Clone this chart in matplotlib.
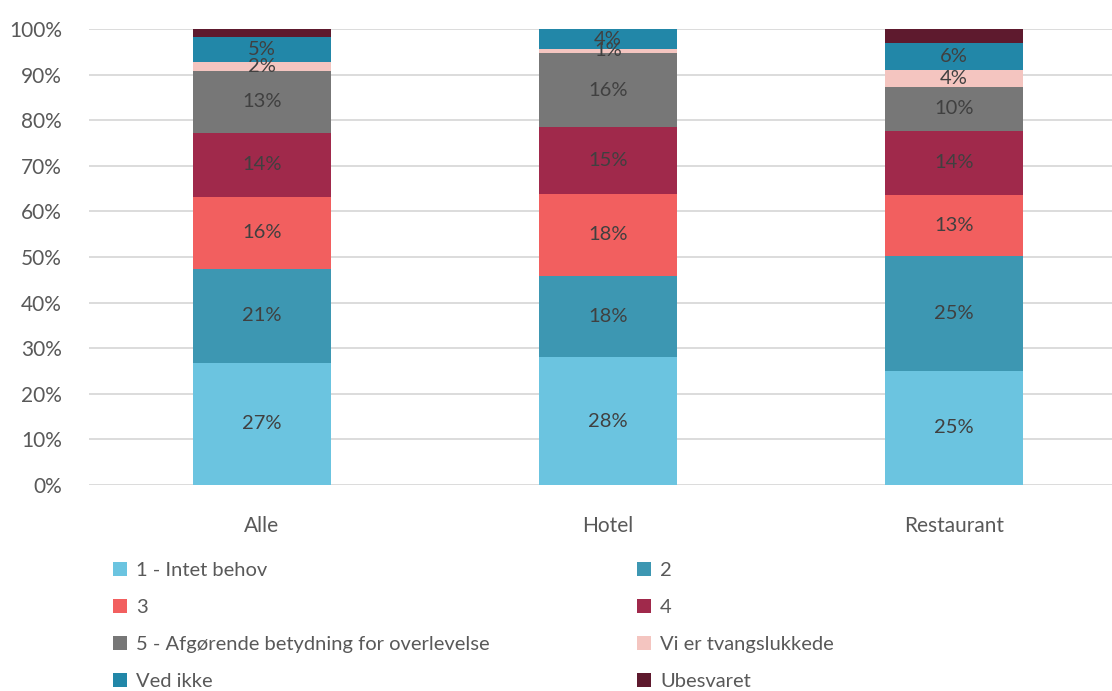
import matplotlib
matplotlib.use("Agg")
import matplotlib.pyplot as plt
from matplotlib.patches import Patch
import numpy as np

categories = ["Alle", "Hotel", "Restaurant"]
series_names = ["1 - Intet behov", "2", "3", "4",
                "5 - Afgørende betydning for overlevelse", "Vi er tvangslukkede",
                "Ved ikke", "Ubesvaret"]
s1 = [26.8, 28.0, 25.1]
s2 = [20.6, 17.9, 25.2]
s3 = [15.8, 17.9, 13.3]
s4 = [14.1, 14.6, 14.1]
s5 = [13.4, 16.4, 9.6]
s_tvang = [2.1, 0.8, 3.7]
s_vedikke = [5.4, 4.4, 5.9]
s_ubes = [1.8, 0.0, 3.1]
series = [s1, s2, s3, s4, s5, s_tvang, s_vedikke, s_ubes]
labels = [["27%", "28%", "25%"], ["21%", "18%", "25%"], ["16%", "18%", "13%"],
          ["14%", "15%", "14%"], ["13%", "16%", "10%"], ["2%", "1%", "4%"],
          ["5%", "4%", "6%"], [None, None, None]]
colors = ["#6BC4E0", "#3D97B2", "#F25F5F", "#A0294B", "#777777", "#F4C5C0",
          "#2287A8", "#5E1A2E"]
yticks = [0, 10, 20, 30, 40, 50, 60, 70, 80, 90, 100]

plt.rcParams['font.family'] = ['Lato', 'DejaVu Sans']
W, H = 1112, 691
fig = plt.figure(figsize=(W/100, H/100), dpi=100)
ax = fig.add_axes([89/W, (H-485)/H, 1023/W, 456/H])

x = np.arange(len(categories))
bottom = np.zeros(len(categories))
for vals, lab, c in zip(series, labels, colors):
    vals = np.array(vals)
    ax.bar(x, vals, bottom=bottom, width=0.4, color=c, zorder=3)
    for i in range(len(x)):
        if lab[i] is not None and vals[i] > 0:
            ax.text(x[i], bottom[i] + vals[i]/2, lab[i], ha='center', va='center',
                    fontsize=14.5, color='#404040', zorder=4)
    bottom += vals

ax.set_xlim(-0.5, -0.5 + 1023/346)
ax.set_ylim(0, 100)
ax.set_yticks(yticks)
ax.set_yticklabels([f"{v}%" for v in yticks])
ax.set_xticks(x)
ax.set_xticklabels(categories)
ax.yaxis.grid(True, color='#D9D9D9', linewidth=1.3, zorder=0)
ax.set_axisbelow(True)
for s in ax.spines.values():
    s.set_visible(False)
ax.tick_params(axis='both', length=0, labelsize=15, colors='#595959')
ax.tick_params(axis='y', pad=19.5)
ax.tick_params(axis='x', pad=22)

col1 = [0, 2, 4, 6]
col2 = [1, 3, 5, 7]
for idx, xpos in ((col1, 103), (col2, 627)):
    handles = [Patch(facecolor=colors[i], edgecolor='none') for i in idx]
    leg = fig.legend(handles, [series_names[i] for i in idx],
                     loc='upper left', bbox_to_anchor=(xpos/W, (H-552)/H),
                     frameon=False, fontsize=14.5, labelcolor='#595959',
                     handlelength=0.7, handleheight=0.7, handletextpad=0.45,
                     labelspacing=0.98, borderpad=0)

fig.savefig("out.png", dpi=100)
